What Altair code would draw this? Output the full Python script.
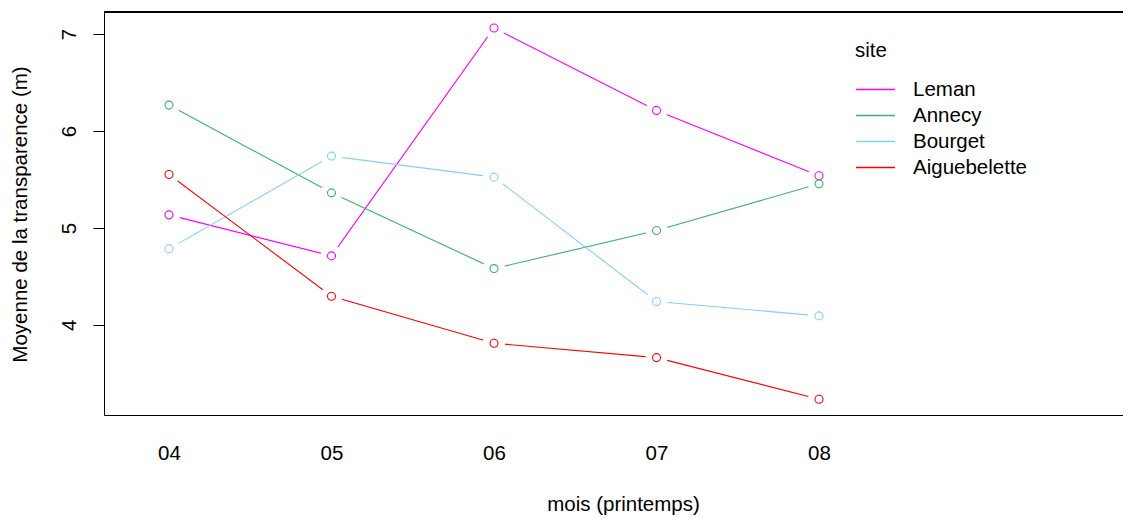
import altair as alt
import pandas as pd

months = [4, 5, 6, 7, 8]
month_labels = ["04", "05", "06", "07", "08"]
sites = ["Leman", "Annecy", "Bourget", "Aiguebelette"]
site_colors = ["#FF00FF", "#3CB371", "#87CEFA", "#FF0000"]
leman = [5.135, 4.712, 7.062, 6.212, 5.538]
annecy = [6.267, 5.362, 4.581, 4.973, 5.455]
bourget = [4.784, 5.741, 5.524, 4.241, 4.093]
aiguebelette = [5.551, 4.296, 3.811, 3.663, 3.233]

series = {"Leman": leman, "Annecy": annecy, "Bourget": bourget, "Aiguebelette": aiguebelette}
rows = []
for s in sites:
    for m, lab, v in zip(months, month_labels, series[s]):
        rows.append({"site": s, "mois": m, "label": lab, "valeur": v})
df = pd.DataFrame(rows)

W, H = 1019, 403
FONT = "Liberation Sans"
FS = 20.5

xscale = alt.Scale(domain=[3.6, 3.6 + W / 162.5], nice=False, zero=False)
yscale = alt.Scale(domain=[3.071, 7.227], nice=False, zero=False)
cscale = alt.Scale(domain=sites, range=site_colors)

x_enc = alt.X("mois:Q", scale=xscale, axis=alt.Axis(
    values=months, labelExpr="'0' + datum.value", ticks=False, grid=False,
    domain=True, domainColor="black", domainWidth=1,
    labelPadding=28, labelFontSize=FS, labelFont=FONT, labelColor="black",
    title="mois (printemps)", titleFont=FONT, titleFontSize=FS, titleFontWeight="normal",
    titleColor="black", titleX=519, titleY=95, titleBaseline="alphabetic", titleAnchor="start",
    titleAlign="center"))
y_enc = alt.Y("valeur:Q", scale=yscale, axis=alt.Axis(
    values=[4, 5, 6, 7], format="d", grid=False, tickSize=11, tickColor="black", tickWidth=1,
    domain=True, domainColor="black", domainWidth=1,
    labelAngle=270, labelAlign="center", labelBaseline="alphabetic", labelPadding=18,
    labelFontSize=FS, labelFont=FONT, labelColor="black",
    title="Moyenne de la transparence (m)", titleFont=FONT, titleFontSize=FS,
    titleFontWeight="normal", titleColor="black", titleAngle=270, titleX=-78, titleY=202,
    titleAlign="center", titleBaseline="alphabetic"))

base = alt.Chart(df)

lines = base.mark_line(strokeWidth=1.1).encode(
    x=x_enc, y=y_enc,
    color=alt.Color("site:N", scale=cscale, sort=sites, legend=alt.Legend(
        title="site", orient="none", legendX=751, legendY=29,
        symbolType="stroke", symbolSize=1521, symbolStrokeWidth=1.5, clipHeight=20,
        rowPadding=5.0, labelOffset=17, padding=0, titlePadding=18,
        labelFont=FONT, labelFontSize=FS, labelColor="black",
        titleFont=FONT, titleFontSize=FS, titleFontWeight="normal", titleColor="black")),
    detail="site:N",
)

gaps = base.mark_point(shape="circle", filled=True, color="white", size=484, opacity=1).encode(
    x=alt.X("mois:Q", scale=xscale), y=alt.Y("valeur:Q", scale=yscale),
)

points = base.mark_point(shape="circle", filled=False, size=64, strokeWidth=1.1, opacity=1).encode(
    x=alt.X("mois:Q", scale=xscale), y=alt.Y("valeur:Q", scale=yscale),
    color=alt.Color("site:N", scale=cscale, sort=sites, legend=None),
)

top = alt.Chart(df).mark_rule(color="black", strokeWidth=1).encode(
    x=alt.value(0), x2=alt.value(W), y=alt.value(0)
)

chart = alt.layer(lines, gaps, points, top).properties(
    width=W, height=H,
    autosize=alt.AutoSizeParams(type="none"),
    padding={"left": 96, "top": 4, "right": 0, "bottom": 100},
).configure_view(stroke="transparent").configure(background="white")

chart.save("out.html", embed_options={"renderer": "svg", "actions": False})
